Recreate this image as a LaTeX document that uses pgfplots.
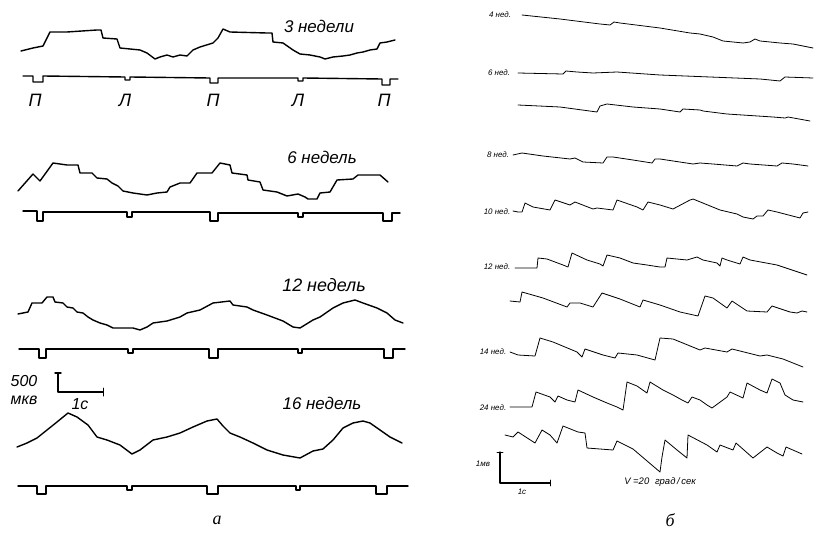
\documentclass[border=0pt]{standalone}
\usepackage{fontspec}
\setmainfont{Liberation Serif}
\newfontfamily\hand{Liberation Sans}
\usepackage{pgfplots}
\pgfplotsset{compat=1.18}
\tikzset{
  tra/.style={black, solid, line join=round, line cap=round, line width=1.4pt},
  trb/.style={black, solid, line join=round, line cap=round, line width=0.8pt},
  lbla/.style={font=\hand\itshape\fontsize{#1}{#1}\selectfont},
  lblb/.style={font=\hand\itshape\fontsize{8}{8}\selectfont},
}
\begin{document}
\begin{tikzpicture}
\begin{axis}[
  width=815bp, height=539bp, scale only axis,
  xmin=0, xmax=815, ymin=0, ymax=539, y dir=reverse,
  hide axis, clip=false,
]
\path (axis cs:0,0) rectangle (axis cs:815,539);
% ---------------- panel a ----------------
% 3 weeks
\addplot[tra, no markers] coordinates {(21,51)(33,48)(43,46)(50,32)(67,32)(97,30)(101,30)(103,38)(117,39)(120,48)(140,50)(147,53)(155,59)(160,57)(167,55)(173,57)(180,55)(187,56)(193,50)(200,47)(213,43)(218,38)(223,29)(230,32)(267,33)(272,33)(273,42)(283,43)(293,50)(300,54)(310,55)(320,57)(325,59)(333,57)(343,56)(350,55)(357,53)(363,52)(370,50)(377,49)(380,43)(387,42)(395,40)};
\addplot[tra, no markers] coordinates {(23,76)(33,76)(33,82)(43,82)(43,76)(125,77)(125,80)(130,80)(130,77)(210,78)(210,83)(218,83)(218,78)(298,78)(298,81)(303,81)(303,78)(382,79)(382,85)(390,85)(390,79)(398,79)};
% 6 weeks
\addplot[tra, no markers] coordinates {(18,191)(33,174)(40,181)(53,163)(67,165)(78,165)(80,173)(92,173)(97,178)(107,179)(112,183)(118,186)(123,191)(133,193)(147,195)(157,193)(167,192)(170,187)(180,183)(190,183)(197,173)(212,173)(220,163)(230,165)(232,173)(247,175)(248,180)(260,182)(263,190)(277,192)(287,196)(298,194)(305,197)(308,199)(317,199)(320,193)(330,192)(337,180)(353,179)(358,175)(380,175)(388,182)};
\addplot[tra, no markers] coordinates {(23,211)(37,211)(37,221)(43,221)(43,212)(127,212)(127,217)(132,217)(132,212)(210,212)(210,221)(218,221)(218,213)(298,213)(298,217)(303,217)(303,213)(383,213)(383,221)(392,221)(392,213)(400,213)};
% 12 weeks
\addplot[tra, no markers] coordinates {(18,314)(28,312)(32,303)(42,303)(47,297)(53,297)(55,302)(63,303)(67,307)(73,308)(77,312)(83,313)(88,317)(93,320)(100,323)(107,325)(113,328)(123,328)(133,328)(140,330)(147,327)(153,323)(167,321)(180,317)(187,313)(200,310)(213,303)(230,301)(233,305)(247,307)(253,310)(267,315)(283,321)(293,327)(300,328)(313,320)(320,317)(333,308)(343,303)(355,300)(363,303)(377,308)(387,313)(395,320)(403,323)};
\addplot[tra, no markers] coordinates {(19,349)(39,349)(39,358)(46,358)(46,349)(128,349)(128,353)(133,353)(133,349)(209,349)(209,358)(218,358)(218,349)(298,349)(298,353)(302,353)(302,349)(384,349)(384,358)(393,358)(393,349)(405,349)};
% 16 weeks
\addplot[tra, no markers] coordinates {(17,447)(27,443)(37,438)(47,430)(57,422)(68,413)(77,417)(88,425)(97,437)(107,440)(120,445)(132,454)(140,450)(153,440)(167,437)(180,433)(193,427)(207,421)(217,419)(223,426)(230,433)(240,437)(253,443)(267,450)(283,455)(300,458)(313,451)(323,449)(333,440)(343,428)(353,423)(363,421)(370,423)(380,430)(390,437)(402,443)};
\addplot[tra, no markers] coordinates {(18,486)(37,486)(37,494)(46,494)(46,486)(127,486)(127,490)(132,490)(132,486)(207,486)(207,494)(218,494)(218,486)(296,486)(296,490)(300,490)(300,486)(376,486)(376,494)(387,494)(387,486)(408,486)};
% scale bar: 500 uV, 1 s
\addplot[tra, no markers] coordinates {(55,373)(61,373)};
\addplot[tra, no markers] coordinates {(58,373)(58,392)(103,392)};
\addplot[tra, no markers, line width=1pt] coordinates {(103,388)(103,396)};

% labels, panel a
\node[lbla=17] at (axis cs:319,26) {3 недели};
\node[lbla=17] at (axis cs:322,157) {6 недель};
\node[lbla=18] at (axis cs:324,285) {12 недель};
\node[lbla=17] at (axis cs:322,403) {16 недель};
\node[lbla=18] at (axis cs:35,100) {П};
\node[lbla=18] at (axis cs:125,100) {Л};
\node[lbla=18] at (axis cs:213,100) {П};
\node[lbla=18] at (axis cs:298,100) {Л};
\node[lbla=18] at (axis cs:384,100) {П};
\node[lbla=16] at (axis cs:24,381) {500};
\node[lbla=16] at (axis cs:24,400) {мкв};
\node[lbla=16] at (axis cs:80,404) {1с};
\node[font=\itshape\fontsize{18}{18}\selectfont] at (axis cs:217,520) {а};

% ---------------- panel b ----------------
% 4 weeks
\addplot[trb, no markers] coordinates {(522,15)(560,19)(600,24)(610,25)(614,22)(620,23)(660,28)(690,33)(700,34)(713,37)(723,41)(743,43)(750,42)(755,39)(760,41)(780,43)(793,44)(813,48)};
% 6 weeks, two runs
\addplot[trb, no markers] coordinates {(518,73)(563,74)(566,71)(577,72)(593,73)(617,72)(660,75)(710,77)(760,79)(780,81)(785,77)(813,78)};
\addplot[trb, no markers] coordinates {(518,105)(560,107)(597,112)(600,106)(607,104)(633,107)(660,109)(680,112)(683,109)(700,110)(703,111)(727,114)(773,117)(785,118)(788,117)(810,121)};
% 8 weeks
\addplot[trb, no markers] coordinates {(513,155)(522,153)(543,156)(570,159)(575,158)(583,162)(603,163)(607,157)(613,157)(633,160)(652,163)(655,159)(660,159)(693,164)(700,163)(713,164)(737,166)(743,163)(750,164)(777,166)(782,163)(793,164)(808,166)};
% 10 weeks
\addplot[trb, no markers] coordinates {(513,211)(518,212)(522,212)(525,203)(533,207)(550,210)(555,200)(570,205)(575,202)(593,209)(597,208)(613,210)(617,200)(637,207)(643,210)(648,202)(660,205)(673,209)(690,200)(693,199)(720,210)(737,214)(743,217)(753,219)(757,216)(763,216)(768,210)(777,212)(800,218)(803,213)(808,212)};
% 12 weeks, two runs
\addplot[trb, no markers] coordinates {(515,268)(537,268)(538,258)(547,259)(563,265)(568,267)(572,253)(587,260)(600,264)(603,266)(607,255)(620,258)(633,263)(647,265)(660,267)(665,267)(667,258)(687,260)(697,257)(703,260)(717,263)(720,266)(722,258)(727,260)(740,264)(743,257)(750,260)(777,265)(807,275)};
\addplot[trb, no markers] coordinates {(510,301)(520,302)(522,292)(543,298)(567,307)(570,303)(580,303)(593,307)(602,293)(620,299)(640,307)(643,300)(660,305)(680,312)(698,316)(705,296)(713,298)(727,308)(732,301)(747,311)(767,312)(772,306)(790,312)(797,313)(802,311)(807,312)};
% 14 weeks
\addplot[trb, no markers] coordinates {(510,352)(518,355)(535,356)(540,338)(553,342)(577,352)(582,357)(585,349)(603,355)(615,358)(618,353)(637,355)(655,360)(660,338)(673,339)(700,350)(705,348)(727,352)(732,349)(760,356)(767,355)(783,359)(803,367)};
% 24 weeks, two runs
\addplot[trb, no markers] coordinates {(510,407)(532,407)(536,392)(550,397)(555,402)(558,396)(567,400)(575,402)(578,390)(593,397)(607,403)(617,407)(623,410)(627,382)(637,386)(647,393)(650,382)(663,390)(673,395)(682,400)(688,403)(692,397)(700,400)(707,405)(712,408)(727,397)(730,392)(743,398)(747,383)(760,390)(767,393)(772,379)(780,383)(785,395)(793,400)(803,402)};
\addplot[trb, no markers] coordinates {(505,435)(513,437)(518,432)(535,443)(542,430)(550,435)(557,443)(563,426)(578,432)(585,433)(587,448)(613,450)(617,441)(633,449)(660,472)(662,457)(665,440)(677,450)(687,458)(688,435)(707,445)(717,452)(720,445)(733,450)(736,443)(753,458)(767,447)(777,453)(783,456)(786,447)(802,454)};
% scale bar: 1 mV, 1 s
\addplot[trb, no markers] coordinates {(497,452)(503,452)};
\addplot[trb, no markers, line width=1.1pt] coordinates {(500,452)(500,483)(550,483)};
\addplot[trb, no markers] coordinates {(550,480)(550,486)};

% labels, panel b
\node[lblb] at (axis cs:500,15) {4 нед.};
\node[lblb] at (axis cs:499,73) {6 нед.};
\node[lblb] at (axis cs:498,155) {8 нед.};
\node[lblb] at (axis cs:497,212) {10 нед.};
\node[lblb] at (axis cs:497,267) {12 нед.};
\node[lblb] at (axis cs:493,352) {14 нед.};
\node[lblb] at (axis cs:493,408) {24 нед.};
\node[lblb] at (axis cs:483,464) {1мв};
\node[lblb] at (axis cs:522,492) {1с};
\node[font=\hand\itshape\fontsize{9.5}{9.5}\selectfont] at (axis cs:660,482) {V =20\,\, град\,/\,сек};
\node[font=\itshape\fontsize{18}{18}\selectfont] at (axis cs:670,520) {б};
\end{axis}
\end{tikzpicture}
\end{document}
